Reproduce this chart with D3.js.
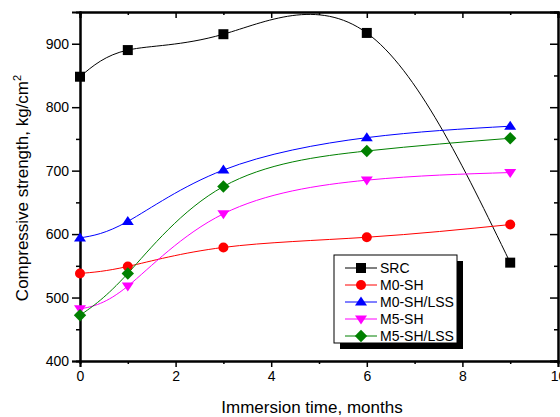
<!DOCTYPE html>
<html>
<head>
<meta charset="utf-8">
<script src="https://cdn.jsdelivr.net/npm/d3@7"></script>
<style>
  body { margin: 0; background: #fff; }
  text { font-family: "Liberation Sans", Arial, sans-serif; }
</style>
</head>
<body>
<div id="chart"></div>
<script>
'use strict'

// months of immersion
const months = [0, 1, 3, 6, 9]

// compressive strength per mix, kg/cm2
const src = [848, 890, 915, 917, 555]
const m0sh = [538, 549, 579, 595, 615]
const m0shlss = [594, 620, 701, 752, 770]
const m5sh = [482, 518, 632, 685, 697]
const m5shlss = [472, 538, 675, 731, 751]

const seriesNames = ['SRC', 'M0-SH', 'M0-SH/LSS', 'M5-SH', 'M5-SH/LSS']
const seriesValues = [src, m0sh, m0shlss, m5sh, m5shlss]
const seriesColors = ['#000000', '#ff0000', '#0000ff', '#ff00ff', '#008000']
const seriesSymbols = ['square', 'circle', 'up', 'down', 'diamond']

const xTicks = [0, 2, 4, 6, 8, 10]
const yTicks = [400, 500, 600, 700, 800, 900]

const width = 560
const height = 417
const margin = { top: 12, right: 2, bottom: 56, left: 80 }

const svg = d3.select('#chart')
  .append('svg')
    .attr('width', width)
    .attr('height', height)

const x = d3.scaleLinear().domain([0, 10]).range([margin.left, width - margin.right])
const y = d3.scaleLinear().domain([400, 950]).range([height - margin.bottom, margin.top])

// bottom axis
svg.append('g')
  .attr('transform', `translate(0, ${y(400)})`)
  .call(d3.axisBottom(x).tickValues(xTicks).tickSize(6).tickPadding(4).tickFormat(d3.format('d')))
  .call(g => g.selectAll('text').attr('font-size', 14).attr('fill', '#000'))
// bottom minor ticks
svg.append('g')
  .attr('transform', `translate(0, ${y(400)})`)
  .call(d3.axisBottom(x).tickValues([1, 3, 5, 7, 9]).tickSize(3).tickFormat(''))

// left axis
svg.append('g')
  .attr('transform', `translate(${x(0)}, 0)`)
  .call(d3.axisLeft(y).tickValues(yTicks).tickSize(8).tickPadding(3))
  .call(g => g.selectAll('text').attr('font-size', 14).attr('fill', '#000'))
svg.append('g')
  .attr('transform', `translate(${x(0)}, 0)`)
  .call(d3.axisLeft(y).tickValues([450, 550, 650, 750, 850]).tickSize(4).tickFormat(''))

// top and right axes, ticks inside
svg.append('g')
  .attr('transform', `translate(0, ${y(950)})`)
  .call(d3.axisBottom(x).tickValues(xTicks).tickSize(6).tickFormat(''))
svg.append('g')
  .attr('transform', `translate(0, ${y(950)})`)
  .call(d3.axisBottom(x).tickValues([1, 3, 5, 7, 9]).tickSize(3).tickFormat(''))
svg.append('g')
  .attr('transform', `translate(${x(10)}, 0)`)
  .call(d3.axisLeft(y).tickValues(yTicks).tickSize(8).tickFormat(''))
svg.append('g')
  .attr('transform', `translate(${x(10)}, 0)`)
  .call(d3.axisLeft(y).tickValues([450, 550, 650, 750, 850]).tickSize(4).tickFormat(''))

svg.selectAll('.domain').attr('stroke-width', 2).attr('stroke', '#000')
svg.selectAll('.tick line').attr('stroke-width', 1.5).attr('stroke', '#000')

// axis titles
svg.append('text')
  .attr('x', 312)
  .attr('y', 413)
  .attr('text-anchor', 'middle')
  .attr('font-size', 17)
  .text('Immersion time, months')

svg.append('text')
  .attr('transform', `translate(28, 188) rotate(-90)`)
  .attr('text-anchor', 'middle')
  .attr('font-size', 17)
  .text('Compressive strength, kg/cm')
  .append('tspan')
    .attr('dy', -7)
    .attr('font-size', 11)
    .text('2')

const symbolPath = (kind, s) => {
  if (kind === 'square') return d3.symbol(d3.symbolSquare, s * s)()
  if (kind === 'circle') return d3.symbol(d3.symbolCircle, Math.PI * (s / 2) * (s / 2))()
  if (kind === 'diamond') {
    const r = s * 0.62
    return `M0,${-r}L${r},0L0,${r}L${-r},0Z`
  }
  const h = s * 0.9
  const w = s * 0.6
  return kind === 'up'
    ? `M0,${-h * 0.6}L${w},${h * 0.4}L${-w},${h * 0.4}Z`
    : `M0,${h * 0.6}L${w},${-h * 0.4}L${-w},${-h * 0.4}Z`
}

const line = d3.line()
  .x(d => x(d[0]))
  .y(d => y(d[1]))
  .curve(d3.curveNatural)

seriesValues.forEach((vals, i) => {
  const pts = months.map((m, j) => [m, vals[j]])
  svg.append('path')
    .datum(pts)
    .attr('fill', 'none')
    .attr('stroke', seriesColors[i])
    .attr('stroke-width', 1)
    .attr('d', line)
  svg.append('g')
    .selectAll('path')
    .data(pts)
    .join('path')
      .attr('transform', d => `translate(${x(d[0])}, ${y(d[1])})`)
      .attr('d', symbolPath(seriesSymbols[i], 10))
      .attr('fill', seriesColors[i])
})

// legend
const legend = svg.append('g').attr('transform', 'translate(334, 255)')
legend.append('rect')
  .attr('x', 6).attr('y', 6).attr('width', 123).attr('height', 88)
  .attr('fill', '#000')
legend.append('rect')
  .attr('x', 0).attr('y', 0).attr('width', 123).attr('height', 88)
  .attr('fill', '#fff').attr('stroke', '#000').attr('stroke-width', 1)

seriesNames.forEach((name, i) => {
  const ly = 13 + i * 17
  legend.append('line')
    .attr('x1', 11).attr('x2', 43).attr('y1', ly).attr('y2', ly)
    .attr('stroke', seriesColors[i]).attr('stroke-width', 1)
  legend.append('path')
    .attr('transform', `translate(27, ${ly})`)
    .attr('d', symbolPath(seriesSymbols[i], 10))
    .attr('fill', seriesColors[i])
  legend.append('text')
    .attr('x', 46).attr('y', ly + 5)
    .attr('font-size', 14)
    .text(name)
})
</script>
</body>
</html>
